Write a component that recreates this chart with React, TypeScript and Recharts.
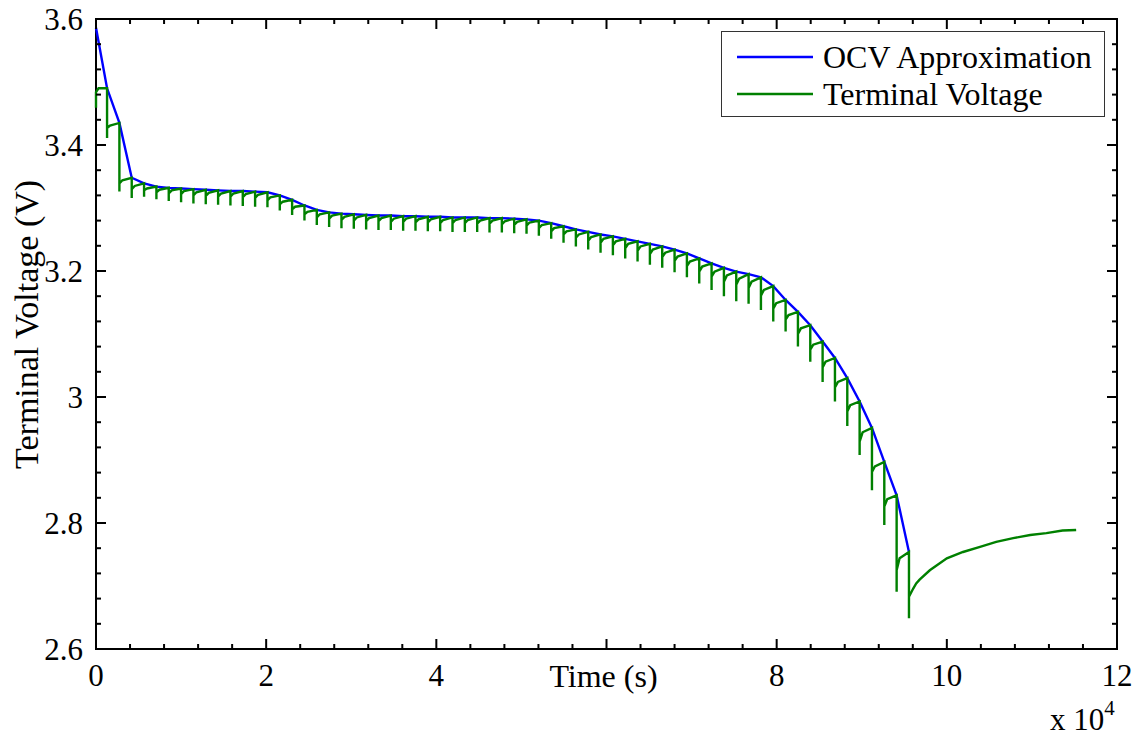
import { LineChart, Line, XAxis, YAxis, Legend, ReferenceArea } from 'recharts';

const FONT = "'Liberation Serif', 'Times New Roman', serif";

// time in units of 1e4 s, voltage in V
const pulseTime = [
  0.13, 0.275, 0.42, 0.565, 0.71, 0.855, 1.0, 1.145, 1.29, 1.435,
  1.58, 1.725, 1.87, 2.015, 2.16, 2.305, 2.45, 2.595, 2.74, 2.885,
  3.03, 3.175, 3.32, 3.465, 3.61, 3.755, 3.9, 4.045, 4.19, 4.335,
  4.48, 4.625, 4.77, 4.915, 5.06, 5.205, 5.35, 5.495, 5.64, 5.785,
  5.93, 6.075, 6.22, 6.365, 6.51, 6.655, 6.8, 6.945, 7.09, 7.235,
  7.38, 7.525, 7.67, 7.815, 7.96, 8.105, 8.25, 8.395, 8.54, 8.685,
  8.83, 8.975, 9.12, 9.265, 9.41, 9.555,
];

const ocvVoltage = [
  3.490, 3.435, 3.348, 3.339, 3.334, 3.332, 3.331, 3.330, 3.329, 3.328,
  3.327, 3.327, 3.326, 3.325, 3.320, 3.313, 3.304, 3.297, 3.293, 3.291,
  3.290, 3.289, 3.288, 3.288, 3.287, 3.287, 3.286, 3.286, 3.285, 3.285,
  3.285, 3.284, 3.284, 3.283, 3.282, 3.280, 3.276, 3.271, 3.266, 3.262,
  3.258, 3.255, 3.251, 3.247, 3.243, 3.239, 3.234, 3.228, 3.220, 3.212,
  3.205, 3.199, 3.195, 3.190, 3.176, 3.154, 3.135, 3.114, 3.088, 3.062,
  3.030, 2.993, 2.951, 2.897, 2.844, 2.754,
];

const pulseLow = [
  3.411, 3.326, 3.316, 3.318, 3.314, 3.311, 3.309, 3.307, 3.306, 3.305,
  3.304, 3.303, 3.302, 3.301, 3.296, 3.289, 3.280, 3.273, 3.270, 3.268,
  3.267, 3.266, 3.265, 3.265, 3.264, 3.264, 3.263, 3.263, 3.262, 3.262,
  3.262, 3.261, 3.261, 3.260, 3.259, 3.256, 3.251, 3.245, 3.239, 3.234,
  3.229, 3.225, 3.220, 3.215, 3.210, 3.205, 3.198, 3.190, 3.180, 3.170,
  3.160, 3.152, 3.148, 3.138, 3.120, 3.104, 3.080, 3.056, 3.024, 2.993,
  2.954, 2.908, 2.852, 2.797, 2.691, 2.649,
];

const reboundVoltage = [
  3.427, 3.339, 3.330, 3.328, 3.325, 3.323, 3.322, 3.320, 3.319, 3.318,
  3.318, 3.317, 3.316, 3.312, 3.306, 3.298, 3.290, 3.285, 3.283, 3.281,
  3.280, 3.279, 3.279, 3.278, 3.278, 3.277, 3.277, 3.276, 3.276, 3.276,
  3.275, 3.275, 3.274, 3.273, 3.272, 3.268, 3.263, 3.258, 3.253, 3.248,
  3.245, 3.241, 3.236, 3.232, 3.227, 3.222, 3.216, 3.208, 3.199, 3.191,
  3.183, 3.178, 3.173, 3.161, 3.140, 3.123, 3.100, 3.075, 3.047, 3.015,
  2.977, 2.929, 2.881, 2.826, 2.725, 2.683,
];

const kneeVoltage = [
  3.431, 3.344, 3.335, 3.331, 3.329, 3.328, 3.327, 3.325, 3.324, 3.323,
  3.323, 3.322, 3.321, 3.317, 3.310, 3.302, 3.294, 3.290, 3.288, 3.286,
  3.285, 3.284, 3.284, 3.283, 3.283, 3.282, 3.282, 3.281, 3.281, 3.281,
  3.280, 3.280, 3.279, 3.278, 3.277, 3.273, 3.268, 3.263, 3.258, 3.254,
  3.251, 3.247, 3.243, 3.239, 3.234, 3.229, 3.223, 3.215, 3.207, 3.199,
  3.193, 3.188, 3.183, 3.170, 3.149, 3.130, 3.109, 3.083, 3.056, 3.024,
  2.987, 2.944, 2.890, 2.838, 2.744,
];
const kneeDelay = 0.035;

const ocvStart = 3.586;
const startTime = [0, 0, 0.03];
const startVoltage = [3.459, 3.484, 3.49];

const relaxTime = [9.605, 9.64, 9.68, 9.8, 10.0, 10.19, 10.39, 10.58, 10.78, 10.98, 11.17, 11.36, 11.52];
const relaxVoltage = [2.696, 2.704, 2.71, 2.725, 2.744, 2.754, 2.762, 2.77, 2.776, 2.781, 2.784, 2.788, 2.789];

const xTicks = [0, 0.4, 0.8, 1.2, 1.6, 2, 2.4, 2.8, 3.2, 3.6, 4, 4.4, 4.8, 5.2, 5.6, 6, 6.4, 6.8, 7.2, 7.6, 8, 8.4, 8.8, 9.2, 9.6, 10, 10.4, 10.8, 11.2, 11.6, 12];
const xTickLabels = ['0', '2', '4', '', '8', '10', '12']; // the axis title sits where "6" would be
const yTicks = [2.6, 2.64, 2.68, 2.72, 2.76, 2.8, 2.84, 2.88, 2.92, 2.96, 3, 3.04, 3.08, 3.12, 3.16, 3.2, 3.24, 3.28, 3.32, 3.36, 3.4, 3.44, 3.48, 3.52, 3.56, 3.6];
const yTickLabels = ['2.6', '2.8', '3', '3.2', '3.4', '3.6'];

const ocvData = [{ t: 0, v: ocvStart }, ...pulseTime.map((t, i) => ({ t, v: ocvVoltage[i] }))];

const terminalData: { t: number; v: number }[] = [];
startTime.forEach((t, i) => terminalData.push({ t, v: startVoltage[i] }));
pulseTime.forEach((t, i) => {
  terminalData.push({ t, v: ocvVoltage[i] });
  terminalData.push({ t, v: pulseLow[i] });
  terminalData.push({ t, v: reboundVoltage[i] });
  if (i < kneeVoltage.length) terminalData.push({ t: t + kneeDelay, v: kneeVoltage[i] });
});
relaxTime.forEach((t, i) => terminalData.push({ t, v: relaxVoltage[i] }));

// plot box: 96..1117 x 19..649
const PLOT_W = 1021;
const PLOT_H = 630;

const majorIndex = (v: number, base: number, step: number) => {
  const r = (v - base) / step;
  return Math.abs(r - Math.round(r)) < 1e-6 ? Math.round(r) : -1;
};

const textStyle = { fontFamily: FONT, fontSize: 31, fill: '#000' };

// bottom axis ticks, mirrored on the top edge (MATLAB box, ticks pointing in)
const bottomTick = (props) => {
  const { x, y, payload } = props;
  const k = majorIndex(payload.value, 0, 2);
  const len = k >= 0 ? 10 : 5;
  return (
    <g>
      <rect x={x - 1} y={y - len} width={2} height={len} fill="#000" />
      <rect x={x - 1} y={y - PLOT_H} width={2} height={len} fill="#000" />
      {k >= 0 && xTickLabels[k] !== '' && (
        <text x={x} y={y + 37} textAnchor="middle" style={textStyle}>
          {xTickLabels[k]}
        </text>
      )}
      {k === 3 && (
        <text x={x - 3} y={y + 38} textAnchor="middle" style={{ ...textStyle, fontSize: 32 }}>
          Time (s)
        </text>
      )}
      {k === 6 && (
        <text x={x - 67} y={y + 81} style={textStyle}>
          x 10<tspan dy={-15} style={{ fontSize: 21 }}>4</tspan>
        </text>
      )}
    </g>
  );
};

// left axis ticks, mirrored on the right edge
const leftTick = (props) => {
  const { x, y, payload } = props;
  const k = majorIndex(payload.value, 2.6, 0.2);
  const len = k >= 0 ? 10 : 5;
  const titleRow = majorIndex(payload.value, 3.12, 1) === 0;
  return (
    <g>
      <rect x={x} y={y - 1} width={len} height={2} fill="#000" />
      <rect x={x + PLOT_W - len} y={y - 1} width={len} height={2} fill="#000" />
      {k >= 0 && (
        <text x={x - 13} y={y + 11} textAnchor="end" style={textStyle}>
          {yTickLabels[k]}
        </text>
      )}
      {titleRow && (
        <text x={38} y={y + 3} transform={`rotate(-90 38 ${y + 3})`} textAnchor="middle" style={{ ...textStyle, fontSize: 34 }}>
          Terminal Voltage (V)
        </text>
      )}
    </g>
  );
};

const renderLegend = (props) => {
  const { payload } = props;
  return (
    <svg width={384} height={86} style={{ display: 'block' }}>
      <rect x={0.5} y={0.5} width={383} height={85} fill="#fff" stroke="#333" strokeWidth={1} />
      {payload.map((entry, index) => (
        <g key={`item-${index}`}>
          <line x1={16} x2={92} y1={26 + index * 37} y2={26 + index * 37} stroke={entry.color} strokeWidth={2.4} />
          <text x={102} y={37 + index * 37} style={{ ...textStyle, fontSize: 32 }}>
            {entry.value}
          </text>
        </g>
      ))}
    </svg>
  );
};

const App = () => {
  return (
    <div style={{ position: 'absolute', left: 0, top: 0, background: '#fff' }}>
      <LineChart width={1145} height={744} margin={{ top: 19, right: 28, bottom: 94, left: 95 }}>
        <XAxis
          dataKey="t"
          type="number"
          domain={[0, 12]}
          ticks={xTicks}
          interval={0}
          height={1}
          tickSize={0}
          tickMargin={0}
          tickLine={false}
          axisLine={false}
          tick={bottomTick}
        />
        <YAxis
          type="number"
          domain={[2.6, 3.6]}
          ticks={yTicks}
          interval={0}
          width={1}
          tickSize={0}
          tickMargin={0}
          tickLine={false}
          axisLine={false}
          tick={leftTick}
        />
        <ReferenceArea
          x1={0}
          x2={12}
          y1={2.6}
          y2={3.6}
          fill="none"
          fillOpacity={0}
          stroke="#000"
          strokeWidth={2}
          strokeOpacity={1}
          ifOverflow="visible"
        />
        <Line
          data={ocvData}
          dataKey="v"
          name="OCV Approximation"
          type="linear"
          stroke="#0000ff"
          strokeWidth={2.4}
          dot={false}
          activeDot={false}
          isAnimationActive={false}
        />
        <Line
          data={terminalData}
          dataKey="v"
          name="Terminal Voltage"
          type="linear"
          stroke="#008000"
          strokeWidth={2.4}
          dot={false}
          activeDot={false}
          isAnimationActive={false}
        />
        <Legend
          layout="horizontal"
          verticalAlign="middle"
          align="center"
          content={renderLegend}
          wrapperStyle={{ position: 'absolute', left: 721, top: 31, width: 384, height: 86 }}
        />
      </LineChart>
    </div>
  );
};

export default App;
